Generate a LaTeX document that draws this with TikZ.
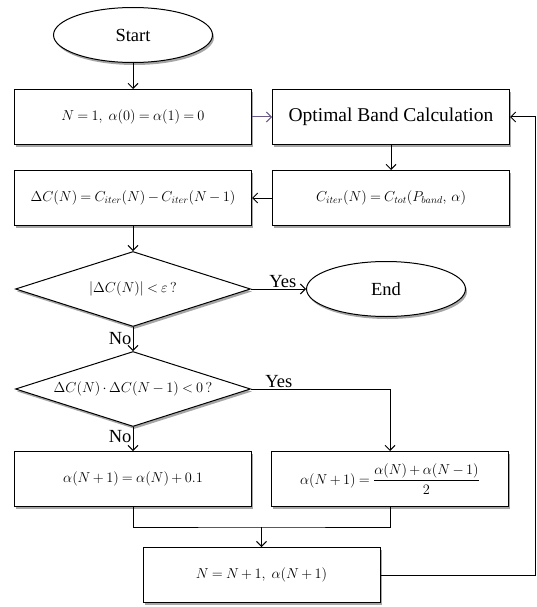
\documentclass[tikz,border=0pt]{standalone}
\usepackage{amsmath}
\usepackage{fontspec}
\setmainfont{Liberation Serif}
\usepackage{tikz}
\usetikzlibrary{positioning, shapes.geometric, arrows.meta, calc, shadows}
\definecolor{linkpurple}{RGB}{105,90,135}
\newcommand{\mathfont}{\fontsize{14.4}{18}\selectfont\thickmuskip=4mu\medmuskip=3mu}

\tikzset{
    shade/.style={drop shadow={shadow xshift=1.5pt, shadow yshift=-2.5pt, fill=black, opacity=0.35}},
    box/.style={draw, fill=white, line width=1pt, minimum width=237pt, minimum height=55pt, inner sep=2pt, font=\mathfont, shade},
    terminal/.style={draw, ellipse, fill=white, line width=1pt, minimum width=159pt, minimum height=55pt, inner sep=0pt, shade},
    choice/.style={draw, diamond, aspect=3.1, fill=white, line width=1pt, minimum width=235pt, minimum height=75pt, inner sep=0pt, font=\mathfont, shade},
}

\begin{document}
\begin{tikzpicture}[node distance=26pt, font=\fontsize{18.5}{22}\selectfont, line width=1pt, >={Straight Barb[length=5pt, width=10pt]}]
    \useasboundingbox (0,0) rectangle (537pt,-607pt);
    \node[terminal] (start) at (133pt,-35pt) {Start};
    \node[box, below=26pt of start] (init) {$N=1,\ \alpha(0)=\alpha(1)=0$};
    \node[box, right=20pt of init, font=\fontsize{19.5}{23}\selectfont] (band) {Optimal Band Calculation};
    \node[box, below=25pt of band] (cost) {$C_{iter}(N)=C_{tot}(P_{band},\,\alpha)$};
    \node[box, below=25pt of init] (diff) {$\Delta C(N)=C_{iter}(N)-C_{iter}(N-1)$};
    \node[choice, below=25pt of diff] (check) {$\left|\Delta C(N)\right|<\varepsilon\,?$};
    \node[terminal, right=55pt of check] (finish) {End};
    \node[choice, below=24pt of check] (sign) {$\Delta C(N)\cdot\Delta C(N-1)<0\,?$};
    \node[box, below=24pt of sign] (step_l) {$\alpha(N+1)=\alpha(N)+0.1$};
    \node[box, right=19pt of step_l] (step_r) {$\alpha(N+1)=\dfrac{\alpha(N)+\alpha(N-1)}{2}$};
    % dot
    \coordinate (merge) at ($(step_l.south)!0.5!(step_r.south)+(0,-20pt)$);
    \node[box, below=20pt of merge] (update) {$N=N+1,\ \alpha(N+1)$};
    \coordinate (loop) at ([xshift=25pt]band.east);

    \draw[->] (start) -- (init);
    \draw[->, linkpurple] (init) -- (band);
    \draw[->] (band) -- (cost);
    \draw[->] (cost) -- (diff);
    \draw[->] (diff) -- (check);
    \draw[->] (check) -- node[above, pos=.58, inner sep=1pt] {Yes} (finish);
    \draw[->] (check) -- node[left, inner sep=1pt] {No} (sign);
    \draw[->] (sign) -- node[left, pos=.4, inner sep=1pt] {No} (step_l);
    \draw[->] (sign.east) -- node[above, pos=.2, inner sep=1pt] {Yes} (sign.east -| step_r) -- (step_r);
    \draw (step_l) |- (merge) -| (step_r);
    \draw[->] (merge) -- (update);
    \draw[->] (update) -| (loop) -- (band);
\end{tikzpicture}
\end{document}
